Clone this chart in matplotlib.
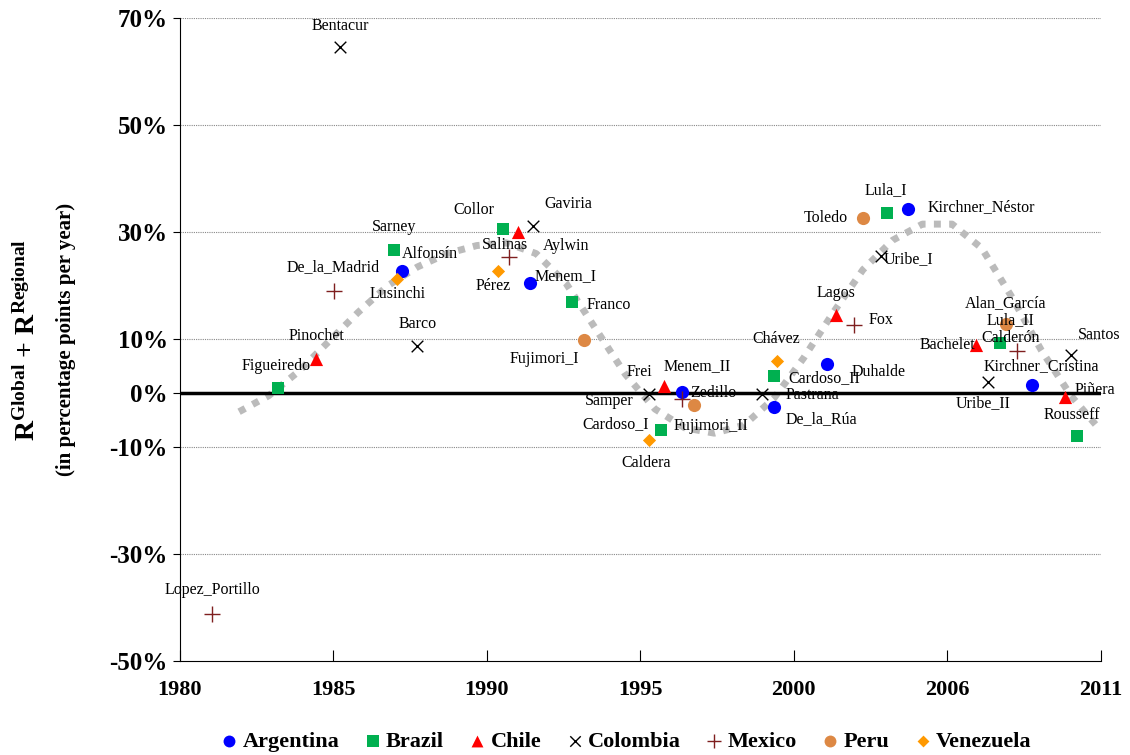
import matplotlib
matplotlib.use("Agg")
import matplotlib.pyplot as plt
import numpy as np

plt.rcParams['font.family'] = ['Liberation Serif', 'DejaVu Serif']
plt.rcParams['mathtext.fontset'] = 'custom'
plt.rcParams['mathtext.rm'] = 'Liberation Serif'
plt.rcParams['mathtext.bf'] = 'Liberation Serif:bold'

# data: (name, year, value %)
argentina = [("Alfonsín", 1987.5, 22.8), ("Menem_I", 1991.8, 20.6), ("Menem_II", 1996.9, 0.2),
             ("De_la_Rúa", 2000.0, -2.6), ("Duhalde", 2001.8, 5.4), ("Kirchner_Néstor", 2004.5, 34.4),
             ("Kirchner_Cristina", 2008.7, 1.5)]
brazil = [("Figueiredo", 1983.3, 0.9), ("Sarney", 1987.2, 26.7), ("Collor", 1990.9, 30.5),
          ("Franco", 1993.2, 17.0), ("Cardoso_I", 1996.2, -6.9), ("Cardoso_II", 2000.0, 3.2),
          ("Lula_I", 2003.8, 33.6), ("Lula_II", 2007.6, 9.3), ("Rousseff", 2010.2, -8.0)]
chile = [("Pinochet", 1984.6, 6.4), ("Aylwin", 1991.4, 30.1), ("Frei", 1996.3, 1.3),
         ("Lagos", 2002.1, 14.6), ("Bachelet", 2006.8, 9.0), ("Piñera", 2009.8, -0.7)]
colombia = [("Bentacur", 1985.4, 64.5), ("Barco", 1988.0, 8.8), ("Gaviria", 1991.9, 31.2),
            ("Samper", 1995.8, -0.2), ("Pastrana", 1999.6, -0.2), ("Uribe_I", 2003.6, 25.6),
            ("Uribe_II", 2007.2, 2.0), ("Santos", 2010.0, 7.1)]
mexico = [("Lopez_Portillo", 1981.1, -41.3), ("De_la_Madrid", 1985.2, 19.1), ("Salinas", 1991.1, 25.4),
          ("Zedillo", 1996.9, -1.1), ("Fox", 2002.7, 12.7), ("Calderón", 2008.2, 7.8)]
peru = [("Fujimori_I", 1993.6, 9.9), ("Fujimori_II", 1997.3, -2.2), ("Toledo", 2003.0, 32.7),
        ("Alan_García", 2007.8, 12.8)]
venezuela = [("Lusinchi", 1987.3, 21.3), ("Pérez", 1990.7, 22.8), ("Caldera", 1995.8, -8.8),
             ("Chávez", 2000.1, 6.0)]

# gray dotted trend
trend_x = [1982.0, 1983.0, 1984.0, 1985.0, 1986.0, 1987.0, 1988.0, 1989.0, 1990.0, 1991.0, 1992.0,
           1993.0, 1994.0, 1995.0, 1996.0, 1997.0, 1998.0, 1999.0, 2000.0, 2001.0, 2002.0,
           2003.0, 2004.0, 2005.0, 2006.0, 2007.0, 2008.0, 2009.0, 2010.0, 2011.0]
trend_y = [-3.5, -0.5, 4.0, 9.5, 15.0, 20.0, 23.5, 26.0, 27.5, 28.0, 26.0, 20.5, 12.0, 3.5, -3.0,
           -6.5, -7.5, -6.0, -1.0, 6.5, 15.0, 23.0, 28.5, 31.5, 31.5, 27.0, 18.0, 8.0, -0.5, -7.0]

xtick_labels = ["1980", "1985", "1990", "1995", "2000", "2006", "2011"]
ytick_vals = [-50, -30, -10, 0, 10, 30, 50, 70]

# label offsets in pixels (dx, dy)
offsets = {
    "Alfonsín": (27, 17), "Menem_I": (35, 6), "Menem_II": (15, 26), "De_la_Rúa": (48, -12),
    "Duhalde": (51, -8), "Kirchner_Néstor": (74, 1), "Kirchner_Cristina": (9, 19),
    "Figueiredo": (-2, 22), "Sarney": (0, 23), "Collor": (-30, 19), "Franco": (37, -3),
    "Cardoso_I": (-45, 6), "Cardoso_II": (50, -2), "Lula_I": (-1, 23), "Lula_II": (11, 23),
    "Rousseff": (-5, 21), "Pinochet": (0, 23), "Aylwin": (48, -14), "Frei": (-24, 14),
    "Lagos": (0, 22), "Bachelet": (-28, 0), "Piñera": (30, 7), "Bentacur": (0, 21),
    "Barco": (0, 22), "Gaviria": (35, 22), "Samper": (-40, -7), "Pastrana": (51, -1),
    "Uribe_I": (28, -3), "Uribe_II": (-5, -21), "Santos": (28, 20), "Lopez_Portillo": (0, 24),
    "De_la_Madrid": (-1, 23), "Salinas": (-4, 12), "Zedillo": (32, 6), "Fox": (27, 5),
    "Calderón": (-7, 13), "Fujimori_I": (-39, -19), "Fujimori_II": (17, -21),
    "Toledo": (-37, 0), "Alan_García": (0, 21), "Lusinchi": (1, -15), "Pérez": (-4, -15),
    "Caldera": (-3, -23), "Chávez": (-1, 22),
}

series = [
    ("Argentina", argentina, dict(marker='o', color='#0000ff', s=90, linewidths=0)),
    ("Brazil", brazil, dict(marker='s', color='#00b050', s=80, linewidths=0)),
    ("Chile", chile, dict(marker='^', color='#ff0000', s=90, linewidths=0)),
    ("Colombia", colombia, dict(marker='x', color='black', s=70, linewidths=1.0)),
    ("Mexico", mexico, dict(marker='+', color='#7f1f1f', s=120, linewidths=1.0)),
    ("Peru", peru, dict(marker='o', color='#dd8844', s=90, linewidths=0)),
    ("Venezuela", venezuela, dict(marker='D', color='#ff9900', s=45, linewidths=0)),
]

fig = plt.figure(figsize=(11.3, 7.55), dpi=100)
ax = fig.add_axes([0.159, 0.1245, 0.815, 0.852])

ax.plot(trend_x, trend_y, color='#bbbbbb', lw=5, ls=(0, (1, 1.2)), zorder=1)
ax.axhline(0, color='black', lw=2.5, zorder=2)

for name, pts, style in series:
    xs = [p[1] for p in pts]
    ys = [p[2] for p in pts]
    ax.scatter(xs, ys, label=name, zorder=3, **style)
    for lab, x, y in pts:
        dx, dy = offsets[lab]
        ax.annotate(lab, (x, y), xytext=(dx, dy), textcoords='offset pixels',
                    ha='center', va='center', fontsize=11.5, zorder=4)

ax.set_xlim(1980, 2011)
ax.set_ylim(-50, 70)
ax.set_xticks(np.linspace(1980, 2011, len(xtick_labels)))
ax.set_xticklabels(xtick_labels, fontsize=16, fontweight='bold')
ax.set_yticks(ytick_vals)
ax.set_yticklabels([f"{v}%" for v in ytick_vals], fontsize=18, fontweight='bold')
for v in [-30, -10, 10, 30, 50, 70]:
    ax.axhline(v, color='#888888', lw=0.8, ls=(0, (1, 1)), zorder=0)
ax.tick_params(axis='x', direction='in', length=8, pad=14)
ax.tick_params(axis='y', direction='out', length=5)
for sp in ['top', 'right']:
    ax.spines[sp].set_visible(False)

fig.text(0.025, 0.55, r'$\mathbf{R^{Global}}$ + $\mathbf{R^{Regional}}$', rotation=90,
         ha='center', va='center', fontsize=20, fontweight='bold')
fig.text(0.058, 0.55, '(in percentage points per year)', rotation=90,
         ha='center', va='center', fontsize=15, fontweight='bold')

fig.legend(loc='lower center', bbox_to_anchor=(0.552, -0.022), ncol=7, frameon=False,
           prop={'weight': 'bold', 'size': 16}, handletextpad=0.0, columnspacing=0.9,
           handlelength=1.2, markerscale=0.9)
fig.savefig("out.png", dpi=100)
